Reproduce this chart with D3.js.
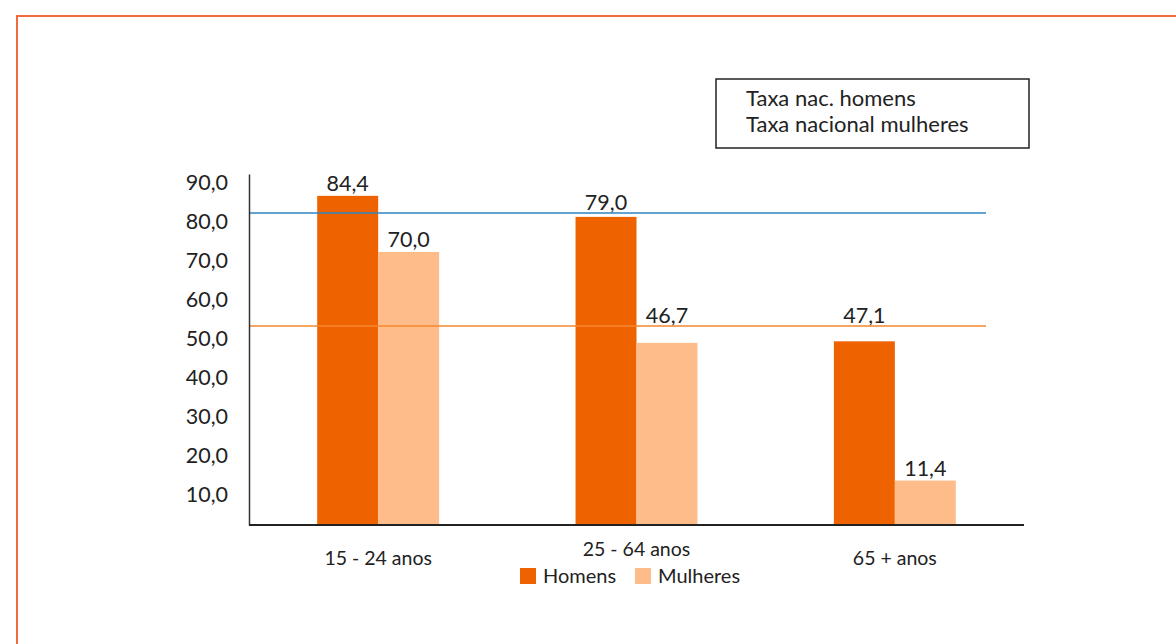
<!DOCTYPE html>
<html>
<head>
<meta charset="utf-8">
<script src="https://cdn.jsdelivr.net/npm/d3@7"></script>
<style>
  html, body { margin: 0; padding: 0; background: #fff; }
  svg { display: block; font-family: Lato, "Open Sans", sans-serif; }
</style>
</head>
<body>
<svg id="chart" width="1176" height="644"></svg>
<script>
// Taxa de atividade por grupo etário e sexo
const categories = ["15 - 24 anos", "25 - 64 anos", "65 + anos"];
const seriesNames = ["Homens", "Mulheres"];
const homens = [84.4, 79.0, 47.1];
const mulheres = [70.0, 46.7, 11.4];
const yTicks = [10, 20, 30, 40, 50, 60, 70, 80, 90];
const nationalNames = ["Taxa nac. homens", "Taxa nacional mulheres"];
const nationalValues = [80.0, 51.0];

const colors = { Homens: "#EE6300", Mulheres: "#FFBC8B" };
const nationalColors = ["#2E86C1", "#F7872E"];

const svg = d3.select("#chart");
const fmt = v => d3.format(".1f")(v).replace(".", ",");

// outer frame
svg.append("path")
  .attr("d", "M17,700 L17,16 L1200,16")
  .attr("fill", "none")
  .attr("stroke", "#F06A3B")
  .attr("stroke-width", 2);

const plot = { left: 249, right: 1024, top: 175, bottom: 525 };

const x = d3.scaleBand()
  .domain(categories)
  .range([plot.left, plot.right])
  .paddingInner(0.528)
  .paddingOuter(0.264);

const xs = d3.scaleBand()
  .domain(seriesNames)
  .range([0, x.bandwidth()]);

const y = d3.scaleLinear()
  .domain([0, 90])
  .range([plot.bottom, plot.bottom - 90 * 3.9]);

const rows = categories.map((c, i) => ({
  category: c,
  values: [
    { name: "Homens", value: homens[i] },
    { name: "Mulheres", value: mulheres[i] }
  ]
}));

// bars
const groups = svg.append("g").selectAll("g")
  .data(rows)
  .join("g")
  .attr("transform", d => `translate(${x(d.category)},0)`);

groups.selectAll("rect")
  .data(d => d.values)
  .join("rect")
  .attr("x", d => xs(d.name))
  .attr("y", d => y(d.value))
  .attr("width", xs.bandwidth())
  .attr("height", d => y(0) - y(d.value))
  .attr("fill", d => colors[d.name]);

// national reference lines
const lineEnd = 986;
svg.append("g").selectAll("line")
  .data(nationalValues)
  .join("line")
  .attr("x1", plot.left)
  .attr("x2", lineEnd)
  .attr("y1", d => y(d))
  .attr("y2", d => y(d))
  .attr("stroke", (d, i) => nationalColors[i])
  .attr("stroke-width", 1.5);

// value labels, lifted above a reference line when the bar ends just under it
function labelBaseline(v) {
  const top = y(v);
  for (const n of nationalValues) {
    const ly = y(n);
    if (top >= ly - 2 && top - ly < 30) return ly - 3;
  }
  return top - 5;
}

groups.selectAll("text")
  .data(d => d.values)
  .join("text")
  .attr("x", d => xs(d.name) + xs.bandwidth() / 2)
  .attr("y", d => labelBaseline(d.value))
  .attr("text-anchor", "middle")
  .attr("font-size", 21.5)
  .attr("fill", "#222")
  .text(d => fmt(d.value));

// y axis
const yAxis = d3.axisLeft(y).tickValues(yTicks).tickSize(0).tickPadding(21).tickFormat(fmt);
const gy = svg.append("g").attr("transform", `translate(${plot.left},0)`).call(yAxis);
gy.select(".domain").attr("stroke", "#333").attr("stroke-width", 1.5);
gy.selectAll("text")
  .attr("font-size", 21.5)
  .attr("font-family", "Lato, sans-serif")
  .attr("fill", "#222")
  .attr("dy", 15.5);

// x axis line
svg.append("line")
  .attr("x1", plot.left).attr("x2", plot.right)
  .attr("y1", plot.bottom).attr("y2", plot.bottom)
  .attr("stroke", "#222").attr("stroke-width", 2);

// category labels (middle one raised to leave room for the legend)
svg.append("g").selectAll("text")
  .data(categories)
  .join("text")
  .attr("x", d => x(d) + x.bandwidth() / 2)
  .attr("y", (d, i) => i === 1 ? 556 : 565)
  .attr("text-anchor", "middle")
  .attr("font-size", 19.5)
  .attr("fill", "#222")
  .text(d => d);

// series legend
const legend = svg.append("g").attr("transform", "translate(520,568)");
const legendOffsets = [0, 115];
seriesNames.forEach((name, i) => {
  const g = legend.append("g").attr("transform", `translate(${legendOffsets[i]},0)`);
  g.append("rect").attr("width", 16).attr("height", 16).attr("fill", colors[name]);
  g.append("text").attr("x", 23).attr("y", 15).attr("font-size", 20).attr("fill", "#222").text(name);
});

// reference line legend box
const box = svg.append("g").attr("transform", "translate(716,79)");
box.append("rect")
  .attr("width", 313).attr("height", 69)
  .attr("fill", "#fff").attr("stroke", "#222").attr("stroke-width", 1.5);
box.selectAll("text")
  .data(nationalNames)
  .join("text")
  .attr("x", 30)
  .attr("y", (d, i) => 27 + i * 26)
  .attr("font-size", 22)
  .attr("fill", "#222")
  .text(d => d);
</script>
</body>
</html>
